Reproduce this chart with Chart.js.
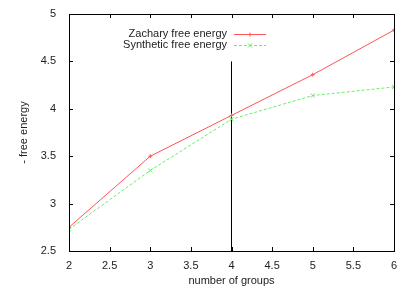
<!DOCTYPE html>
<html lang="en">
<head>
  <meta charset="UTF-8">
  <title>Free energy vs number of groups</title>
  <style>
    body { margin: 0; background: #fff; }
    #wrap { width: 411px; height: 288px; }
  </style>
</head>
<body>
  <div id="wrap"><canvas id="chart" width="411" height="288"></canvas></div>

  <script src="https://cdn.jsdelivr.net/npm/chart.js"></script>
  <script>
    // Data
    const groups = [2, 3, 4, 5, 6];
    const zachary = [2.75, 3.5, 3.93, 4.36, 4.83];
    const synthetic = [2.73, 3.35, 3.89, 4.14, 4.23];
    const markerX = [4, 4];
    const markerY = [2.5, 4.5];
    const xTicks = [2, 2.5, 3, 3.5, 4, 4.5, 5, 5.5, 6];
    const yTicks = [2.5, 3, 3.5, 4, 4.5, 5];

    const font = { family: 'Liberation Sans, Arial, sans-serif', size: 11 };

    // gnuplot style frame with inward ticks on all sides
    const framePlugin = {
      id: 'frame',
      afterDatasetsDraw(chart) {
        const { ctx, chartArea: a, scales } = chart;
        ctx.save();
        ctx.strokeStyle = '#000';
        ctx.lineWidth = 1;
        ctx.strokeRect(Math.round(a.left) + 0.5, Math.round(a.top) + 0.5,
          Math.round(a.right - a.left), Math.round(a.bottom - a.top));
        ctx.beginPath();
        xTicks.forEach(v => {
          const px = Math.round(scales.x.getPixelForValue(v)) + 0.5;
          ctx.moveTo(px, a.bottom); ctx.lineTo(px, a.bottom - 4);
          ctx.moveTo(px, a.top); ctx.lineTo(px, a.top + 4);
        });
        yTicks.forEach(v => {
          const py = Math.round(scales.y.getPixelForValue(v)) + 0.5;
          ctx.moveTo(a.left, py); ctx.lineTo(a.left + 4, py);
          ctx.moveTo(a.right, py); ctx.lineTo(a.right - 4, py);
        });
        ctx.stroke();

        // legend, top inside
        const items = [
          { text: 'Zachary free energy', ds: chart.data.datasets[0], y: 34 },
          { text: 'Synthetic free energy', ds: chart.data.datasets[1], y: 45 }
        ];
        ctx.font = font.size + 'px ' + font.family;
        ctx.textAlign = 'right';
        ctx.textBaseline = 'middle';
        items.forEach(it => {
          ctx.fillStyle = '#222';
          ctx.fillText(it.text, 227, it.y);
          ctx.strokeStyle = it.ds.borderColor;
          ctx.setLineDash(it.ds.borderDash || []);
          ctx.beginPath();
          ctx.moveTo(234, it.y + 0.5); ctx.lineTo(266, it.y + 0.5);
          ctx.stroke();
          ctx.setLineDash([]);
          Chart.helpers.drawPoint(ctx, {
            pointStyle: it.ds.pointStyle, radius: it.ds.pointRadius,
            borderWidth: 1
          }, 250, it.y + 0.5);
        });
        ctx.restore();
      }
    };

    new Chart(document.getElementById('chart'), {
      type: 'line',
      data: {
        datasets: [
          {
            label: 'Zachary free energy',
            data: groups.map((g, i) => ({ x: g, y: zachary[i] })),
            borderColor: '#ff5555',
            backgroundColor: '#ff5555',
            borderWidth: 1,
            pointStyle: 'cross',
            pointRadius: 2,
            pointBorderWidth: 1,
            tension: 0
          },
          {
            label: 'Synthetic free energy',
            data: groups.map((g, i) => ({ x: g, y: synthetic[i] })),
            borderColor: '#66ee66',
            backgroundColor: '#66ee66',
            borderWidth: 1,
            borderDash: [3, 2],
            pointStyle: 'crossRot',
            pointRadius: 3,
            pointBorderWidth: 1,
            tension: 0
          },
          {
            label: 'marker',
            data: markerX.map((x, i) => ({ x: x, y: markerY[i] })),
            borderColor: '#000',
            borderWidth: 1,
            pointRadius: 0
          }
        ]
      },
      options: {
        responsive: false,
        animation: false,
        layout: { padding: { top: 14, right: 17, left: 17, bottom: 0 } },
        plugins: { legend: { display: false }, tooltip: { enabled: false } },
        scales: {
          x: {
            type: 'linear',
            min: 2, max: 6,
            afterBuildTicks: s => { s.ticks = xTicks.map(v => ({ value: v })); },
            afterFit: s => { s.height = 37; },
            grid: { display: false },
            border: { display: false },
            ticks: { font: font, color: '#222', padding: 0, maxRotation: 0, callback: v => String(v) },
            title: { display: true, text: 'number of groups', font: font, color: '#222', padding: { top: 4, bottom: 0 } }
          },
          y: {
            min: 2.5, max: 5,
            afterBuildTicks: s => { s.ticks = yTicks.map(v => ({ value: v })); },
            afterFit: s => { s.width = 52; },
            grid: { display: false },
            border: { display: false },
            ticks: { font: font, color: '#222', padding: 5, callback: v => String(v) },
            title: { display: true, text: '- free energy', font: font, color: '#222', padding: { top: 0, bottom: 0 } }
          }
        }
      },
      plugins: [framePlugin]
    });
  </script>
</body>
</html>
